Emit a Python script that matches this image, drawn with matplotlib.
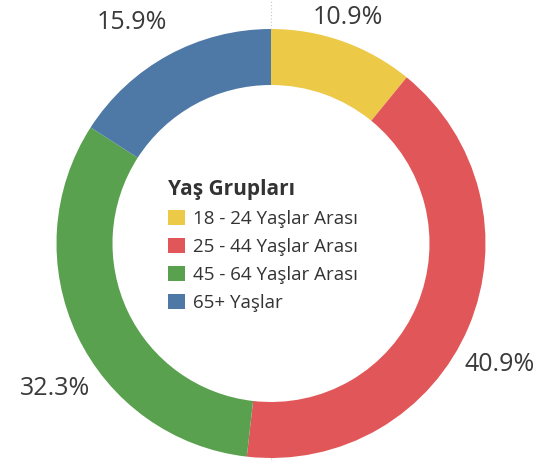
import numpy as np
import matplotlib
matplotlib.use('Agg')
import matplotlib.pyplot as plt
from matplotlib.patches import Patch

# Datos del gráfico
gruplar = ['18 - 24 Yaşlar Arası', '25 - 44 Yaşlar Arası', '45 - 64 Yaşlar Arası', '65+ Yaşlar']
oranlar = [10.9, 40.9, 32.3, 15.9]
renkler = ['#EDC948', '#E15759', '#59A14F', '#4E79A7']

# Ayarlar: etiket konumu için yarıçap ve açı düzeltmesi
etiket_r = [1.115, 1.208, 1.212, 1.219]
etiket_aci = [0.8, -5.0, 8.4, 3.6]

plt.rcParams['font.family'] = ['Open Sans', 'DejaVu Sans']

fig = plt.figure(figsize=(5.49, 4.62), dpi=100)
ax = fig.add_axes([0, 0, 1, 1])

R = 214.5  # piksel cinsinden dış yarıçap
cx, cy = 271, 243.5

wedges, _ = ax.pie(oranlar, colors=renkler, startangle=90, counterclock=False,
                   radius=1, wedgeprops=dict(width=56 / R, linewidth=0))

# pie() eksen sınırlarını değiştirdiği için sonra ayarla
ax.set_xlim(-cx / R, (549 - cx) / R)
ax.set_ylim(-(462 - cy) / R, cy / R)
ax.set_aspect('equal')
ax.axis('off')

# İnce kesikli kılavuz çizgisi (üst ve alt)
ax.plot([0, 0], [1, cy / R], ls=(0, (1, 2)), color='#c8c8c8', lw=0.8)
ax.plot([0, 0], [-1, -(462 - cy) / R], ls=(0, (1, 2)), color='#c8c8c8', lw=0.8)

# Yüzde etiketleri
for w, val, r, da in zip(wedges, oranlar, etiket_r, etiket_aci):
    orta = np.deg2rad((w.theta1 + w.theta2) / 2 + da)
    ax.text(r * np.cos(orta), r * np.sin(orta), f'{val}%', ha='center', va='center',
            fontsize=18, color='#3a3a3a')

# Lejant
handles = [Patch(facecolor=c, edgecolor='none') for c in renkler]
leg = ax.legend(handles, gruplar, title='Yaş Grupları', loc='upper left',
                bbox_to_anchor=(168 / 549, 1 - 179 / 462), frameon=False,
                fontsize=13.5, title_fontsize=15, alignment='left',
                handlelength=0.9, handleheight=0.9, handletextpad=0.43,
                labelspacing=0.52, borderpad=0, borderaxespad=0)
leg.get_title().set_fontweight('bold')
leg.get_title().set_color('#333333')
for t in leg.get_texts():
    t.set_color('#333333')

plt.savefig('out.png', dpi=100)
